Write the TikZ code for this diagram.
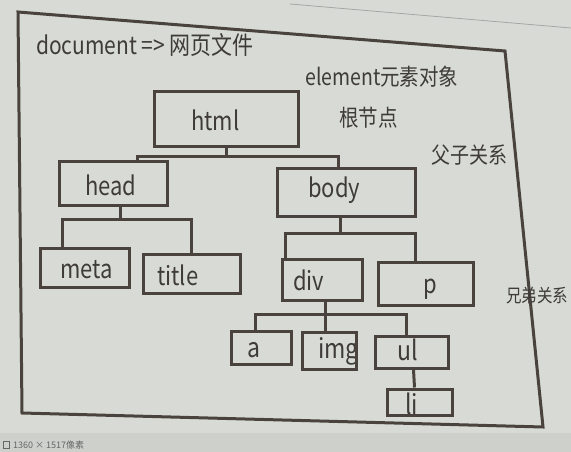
\documentclass[tikz,border=0pt]{standalone}
\usepackage{fontspec}
\setmainfont{Noto Sans CJK SC}
\definecolor{linec}{HTML}{4A433D}
\definecolor{textc}{HTML}{3E3B39}
\definecolor{bgc}{HTML}{D8DBD5}
\definecolor{barc}{HTML}{CDD0CB}
\newcommand\vs[1]{\scalebox{1}[1.18]{#1}}
\begin{document}
\begin{tikzpicture}[x=1pt,y=-1pt,
  box/.style={draw=linec, line width=3pt, inner sep=0pt},
  lbl/.style={inner sep=0pt, anchor=base west, text=textc, font=\fontsize{22}{26}\selectfont},
  lblb/.style={lbl, font=\fontsize{23}{27}\selectfont},
  note/.style={inner sep=0pt, anchor=base west, text=textc, font=\fontsize{19.5}{23}\selectfont},
  conn/.style={draw=linec, line width=3pt},
  frame/.style={draw=linec, line width=3pt, line join=miter}]
\path[use as bounding box, fill=bgc] (0,0) rectangle (571,452);
\clip (0,0) rectangle (571,452);
\fill[barc] (0,433) rectangle (571,452);
\draw[gray!70, line width=0.8pt] (290,4) -- (571,28);

% outer frame
\draw[frame] (18,12) -- (505,51) -- (543,427) -- (22,413) -- cycle;

% annotations
\node[note, font=\fontsize{21}{25}\selectfont] (doc) at (36,55) {\vs{document => 网页文件}};
\node[note] (elem) at (305,86) {\vs{element元素对象}};
\node[note] (root) at (339,126) {\vs{根节点}};
\node[note, font=\fontsize{19}{23}\selectfont] (pc) at (431,163) {\vs{父子关系}};
\node[note, font=\fontsize{15.5}{19}\selectfont] (sib) at (506,302) {\vs{兄弟关系}};
\node[inner sep=0pt, anchor=base west, text=gray!80!black, font=\fontsize{9}{10}\selectfont] (status) at (13,448) {1360 × 1517像素};
\draw[gray!80!black, line width=0.8pt] (3,441) rectangle (9,448);

% labels
\node[lbl] (thtml) at (191,131) {\vs{html}};
\node[lbl] (thead) at (85,195) {\vs{head}};
\node[lbl] (tbody) at (308,197) {\vs{body}};
\node[lbl] (tmeta) at (60,278) {\vs{meta}};
\node[lbl] (ttitle) at (157,285) {\vs{title}};
\node[lbl] (tdiv) at (293,290) {\vs{div}};
\node[lbl] (tp) at (423,293) {\vs{p}};
\node[lblb] (ta) at (247,357) {\vs{a}};
\node[lblb] (timg) at (318,358) {\vs{img}};
\node[lblb] (tul) at (397,360) {\vs{ul}};
\node[lblb] (tli) at (405,414) {\vs{li}};

% boxes
\node[box, minimum width=144pt, minimum height=54pt] (html) at (226,119) {};
\node[box, minimum width=108pt, minimum height=44pt] (head) at (113,183) {};
\node[box, minimum width=138pt, minimum height=48pt] (body) at (346,192) {};
\node[box, minimum width=89pt, minimum height=39pt] (meta) at (84.5,267.5) {};
\node[box, minimum width=97pt, minimum height=39pt] (title) at (191.5,273.5) {};
\node[box, minimum width=80pt, minimum height=41pt] (div) at (322,279.5) {};
\node[box, minimum width=95pt, minimum height=43pt] (p) at (425.5,283.5) {};
\node[box, minimum width=60pt, minimum height=33pt] (a) at (261,347.5) {};
\node[box, minimum width=54pt, minimum height=37pt] (img) at (329,350.5) {};
\node[box, minimum width=73pt, minimum height=32pt] (ul) at (411.5,352) {};
\node[box, minimum width=65pt, minimum height=26pt] (li) at (419.5,402) {};

% connectors
\coordinate (j1) at (226,156);
\draw[conn] (html.south) -- (j1);
\draw[conn] ([xshift=24pt]head.north) |- (j1) -| ([xshift=-8pt]body.north);

\coordinate (j2) at (120,219);
\draw[conn] (head.south -| j2) -- (j2);
\draw[conn] ([xshift=-22pt]meta.north) |- (j2) -| (title.north);

\coordinate (j3) at (340,233);
\draw[conn] (body.south -| j3) -- (j3);
\draw[conn] ([xshift=-37pt]div.north) |- (j3) -| ([xshift=-10pt]p.north);

\coordinate (j4) at (325,314);
\draw[conn] (div.south -| j4) -- (j4);
\draw[conn] ([xshift=-6pt]a.north) |- (j4) -| ([xshift=-5pt]ul.north);
\draw[conn] (j4) -- (img.north -| j4);

\draw[conn] ([xshift=2pt]ul.south) -- ([xshift=-5pt]li.north);
\end{tikzpicture}
\end{document}
